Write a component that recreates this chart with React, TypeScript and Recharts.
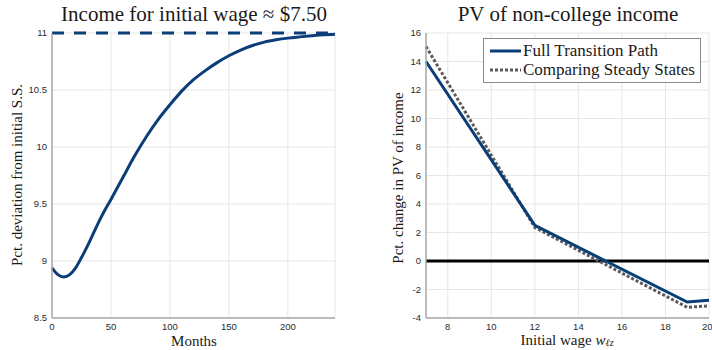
import { LineChart, Line, XAxis, YAxis, CartesianGrid, ReferenceLine } from "recharts";

// Left panel: income path after the policy change (pct. deviation from initial S.S.)
const MONTHS = [0, 5, 10, 15, 20, 25, 30, 35, 40, 45, 50, 60, 70, 80, 90, 100, 110, 120, 130, 140, 150, 160, 170, 180, 190, 200, 210, 220, 230, 240];
const INCOME_DEV = [8.94, 8.88, 8.86, 8.88, 8.94, 9.03, 9.13, 9.24, 9.35, 9.45, 9.54, 9.73, 9.92, 10.09, 10.24, 10.37, 10.49, 10.59, 10.67, 10.74, 10.8, 10.85, 10.89, 10.92, 10.94, 10.955, 10.966, 10.976, 10.985, 10.99];
const NEW_STEADY_STATE = 11;
const LEFT_X_TICKS = [0, 50, 100, 150, 200];
const LEFT_Y_TICKS = [8.5, 9, 9.5, 10, 10.5, 11];

// Right panel: PV change by initial wage
const WAGES = [7, 12, 19, 20];
const FULL_PATH = [14, 2.5, -2.88, -2.75];
const STEADY_COMPARE = [15.05, 2.35, -3.25, -3.15];
const RIGHT_X_TICKS = [8, 10, 12, 14, 16, 18, 20];
const RIGHT_Y_TICKS = [-4, -2, 0, 2, 4, 6, 8, 10, 12, 14, 16];

const NAVY = "#0b3d79";
const DOTTED = "#5a5a5a";
const GRID = "#e6e6e6";
const AXIS = "#a8a8a8";
const SERIF = '"Liberation Serif", "Times New Roman", "DejaVu Serif", serif';
const tickStyle = { fill: "#2b2b2b", fontSize: 9.5, fontFamily: '"Liberation Sans", Arial, sans-serif' };

const leftData = MONTHS.map((m, i) => ({ m, v: INCOME_DEV[i] }));
const rightData = WAGES.map((w, i) => ({ w, full: FULL_PATH[i], ss: STEADY_COMPARE[i] }));

const abs = (style: React.CSSProperties): React.CSSProperties => ({ position: "absolute", ...style });

export default function App() {
  return (
    <div style={abs({ left: 0, top: 0, width: 712, height: 350, background: "#fff", overflow: "hidden", fontFamily: SERIF, color: "#1a1a1a" })}>
      {/* left chart */}
      <div style={abs({ left: 0, top: 0 })}>
        <LineChart width={356} height={350} data={leftData} margin={{ top: 33, right: 21, bottom: 2, left: 12 }}>
          <CartesianGrid stroke={GRID} />
          <XAxis
            dataKey="m"
            type="number"
            domain={[0, 240]}
            ticks={LEFT_X_TICKS}
            height={30}
            tickSize={0}
            tickMargin={5}
            tick={tickStyle}
            axisLine={{ stroke: AXIS, strokeWidth: 1.5 }}
          />
          <YAxis
            type="number"
            domain={[8.5, 11]}
            ticks={LEFT_Y_TICKS}
            width={40}
            tickSize={0}
            tickMargin={5}
            tick={tickStyle}
            axisLine={{ stroke: AXIS, strokeWidth: 1.5 }}
          />
          <ReferenceLine y={NEW_STEADY_STATE} stroke={NAVY} strokeWidth={3} strokeDasharray="12 10" />
          <Line type="monotone" dataKey="v" stroke={NAVY} strokeWidth={3} dot={false} isAnimationActive={false} />
        </LineChart>
      </div>

      {/* right chart */}
      <div style={abs({ left: 356, top: 0 })}>
        <LineChart width={356} height={350} data={rightData} margin={{ top: 33, right: 3, bottom: 2, left: 30 }}>
          <CartesianGrid stroke={GRID} />
          <XAxis
            dataKey="w"
            type="number"
            domain={[7, 20]}
            ticks={RIGHT_X_TICKS}
            height={30}
            tickSize={0}
            tickMargin={5}
            tick={tickStyle}
            axisLine={{ stroke: AXIS, strokeWidth: 1.5 }}
          />
          <YAxis
            type="number"
            domain={[-4, 16]}
            ticks={RIGHT_Y_TICKS}
            width={40}
            tickSize={0}
            tickMargin={5}
            tick={tickStyle}
            axisLine={{ stroke: AXIS, strokeWidth: 1.5 }}
          />
          <ReferenceLine y={0} stroke="#000" strokeWidth={3} />
          <Line type="linear" dataKey="ss" stroke={DOTTED} strokeWidth={3} strokeDasharray="3 2" dot={false} isAnimationActive={false} />
          <Line type="linear" dataKey="full" stroke={NAVY} strokeWidth={3} dot={false} isAnimationActive={false} />
        </LineChart>
      </div>

      {/* titles */}
      <div style={abs({ left: 194, top: 4, transform: "translateX(-50%)", fontSize: 21, lineHeight: "21px", whiteSpace: "nowrap" })}>
        Income for initial wage ≈ $7.50
      </div>
      <div style={abs({ left: 568, top: 4, transform: "translateX(-50%)", fontSize: 21, lineHeight: "21px", whiteSpace: "nowrap" })}>
        PV of non-college income
      </div>

      {/* axis labels */}
      <div style={abs({ left: 194, top: 334, transform: "translateX(-50%)", fontSize: 15, lineHeight: "15px", whiteSpace: "nowrap" })}>
        Months
      </div>
      <div style={abs({ left: 567, top: 333, transform: "translateX(-50%)", fontSize: 15, lineHeight: "15px", whiteSpace: "nowrap" })}>
        Initial wage <i>w</i>
        <sub style={{ fontSize: 10, fontStyle: "italic", verticalAlign: "-1px", lineHeight: "10px" }}>ℓz</sub>
      </div>
      <div style={abs({ left: 17, top: 175, transform: "translate(-50%, -50%) rotate(-90deg)", fontSize: 15, lineHeight: "15px", whiteSpace: "nowrap" })}>
        Pct. deviation from initial S.S.
      </div>
      <div style={abs({ left: 398, top: 178, transform: "translate(-50%, -50%) rotate(-90deg)", fontSize: 15, lineHeight: "15px", whiteSpace: "nowrap" })}>
        Pct. change in PV of income
      </div>

      {/* legend */}
      <div style={abs({ left: 483, top: 38, width: 218, height: 45, boxSizing: "border-box", border: "1px solid #8a8a8a", background: "#fff", padding: "3px 0 0 6px", fontSize: 17 })}>
        {[
          { label: "Full Transition Path", color: NAVY, dash: undefined },
          { label: "Comparing Steady States", color: DOTTED, dash: "3 2" },
        ].map((row) => (
          <div key={row.label} style={{ display: "flex", alignItems: "center", height: 18.5, lineHeight: "18.5px", whiteSpace: "nowrap" }}>
            <svg width={31} height={6} style={{ display: "block" }}>
              <line x1={0} y1={3} x2={31} y2={3} stroke={row.color} strokeWidth={3} strokeDasharray={row.dash} />
            </svg>
            <span style={{ marginLeft: 2 }}>{row.label}</span>
          </div>
        ))}
      </div>
    </div>
  );
}
